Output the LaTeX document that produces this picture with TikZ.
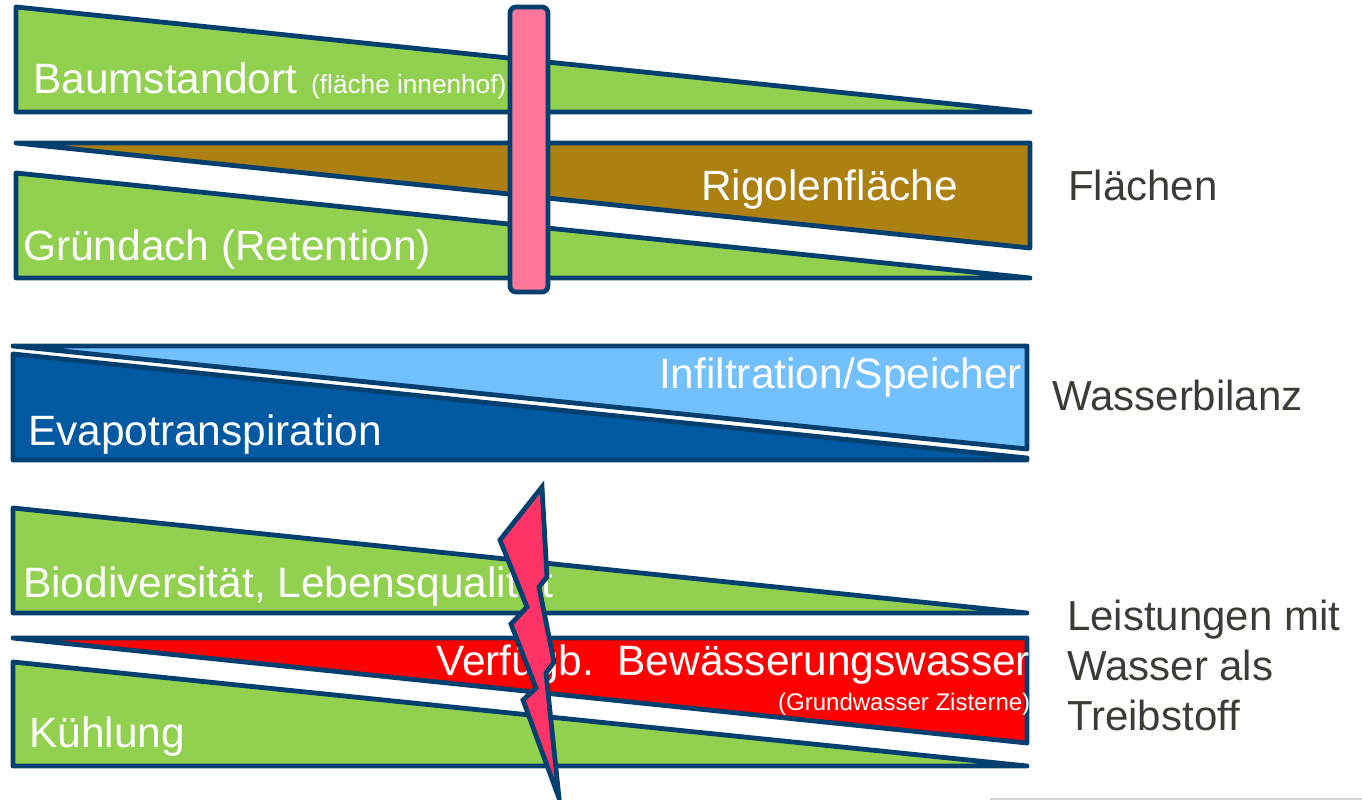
\documentclass[tikz,border=0pt]{standalone}
\usepackage{fontspec}
\setmainfont{Liberation Sans}
\definecolor{edge}{HTML}{03406F}
\definecolor{leaf}{HTML}{92D050}
\definecolor{soil}{HTML}{AD8012}
\definecolor{barpink}{HTML}{FF7799}
\definecolor{sky}{HTML}{73C0FF}
\definecolor{deep}{HTML}{0059A1}
\definecolor{alarm}{HTML}{FF0000}
\definecolor{bolt}{HTML}{FF3366}
\definecolor{sidetext}{HTML}{3C3C34}
\definecolor{rule}{HTML}{D3D7DC}
\begin{document}
\begin{tikzpicture}[x=1pt,y=-1pt,
  band/.style={draw=edge, line width=4.8pt, line join=round},
  lbl/.style={text=white, anchor=base west, inner sep=0pt, font=\fontsize{42.4}{50}\selectfont},
  small/.style={text=white, anchor=base west, inner sep=0pt, font=\fontsize{26.2}{30}\selectfont},
  side/.style={text=sidetext, anchor=base west, inner sep=0pt, font=\fontsize{42}{50}\selectfont}]
\useasboundingbox (0,0) rectangle (1362,800);

% --- areas ---
\draw[band, fill=leaf] (16,7) -- (1030,112) -- (16,112) -- cycle;
\draw[band, fill=soil] (16,143) -- (1030,143) -- (1030,248) -- cycle;
\draw[band, fill=leaf] (16,173) -- (1030,278) -- (16,278) -- cycle;
\node[lbl] (baum) at (33,93) {Baumstandort};
\node[small] (innen) at (311,93) {(fläche innenhof)};
\node[lbl] (rigol) at (701,200) {Rigolenfläche};
\node[lbl] (gruen) at (23,260) {Gründach (Retention)};
\draw[band, fill=barpink, rounded corners=6pt] (510,7) rectangle (548,292);

% --- water balance ---
\draw[band, fill=sky] (13,346) -- (1027,346) -- (1027,449) -- cycle;
\draw[band, fill=deep] (13,354) -- (1027,458) -- (1027,460) -- (13,460) -- cycle;
\node[lbl] (infil) at (659,388) {Infiltration/Speicher};
\node[lbl] (evapo) at (28,445) {Evapotranspiration};

% --- services ---
\draw[band, fill=leaf] (13,508) -- (1027,613) -- (13,613) -- cycle;
\draw[band, fill=alarm] (13,638) -- (1027,638) -- (1027,743) -- cycle;
\draw[band, fill=leaf] (13,662) -- (1027,766) -- (13,766) -- cycle;
\node[lbl] (bio) at (23,597) {Biodiversität, Lebensqualität};
\node[lbl] (verf) at (436,675) {Verfügb.\ \ Bewässerungswasser};
\node[small, font=\fontsize{24}{29}\selectfont] (grund) at (778,710) {(Grundwasser Zisterne)};
\node[lbl] (kuehl) at (29,747) {Kühlung};
\draw[band, fill=bolt, line join=miter] (542,487) -- (500,540) -- (527,607) -- (511,624)
  -- (536,688) -- (523,700) -- (559,798) -- (546,673) -- (554,662) -- (539,587)
  -- (547,577) -- cycle;

% --- row titles ---
\node[side] (flaechen) at (1068,200) {Flächen};
\node[side] (bilanz) at (1052,410) {Wasserbilanz};
\node[side] (leist1) at (1067,630) {Leistungen mit};
\node[side] (leist2) at (1067,680) {Wasser als};
\node[side] (leist3) at (1067,730) {Treibstoff};

\draw[rule, line width=2pt] (990,798.5) -- (1362,798.5);
\end{tikzpicture}
\end{document}
